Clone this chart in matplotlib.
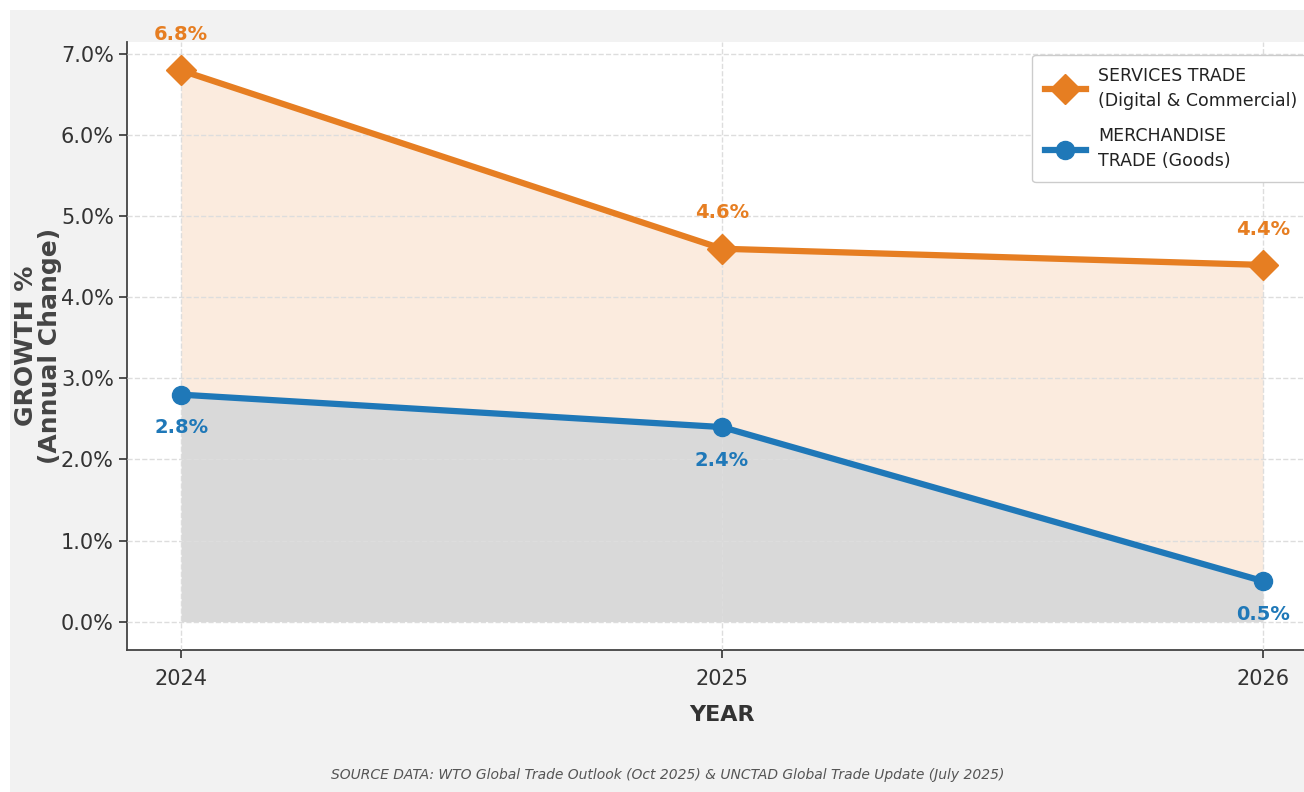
import matplotlib
matplotlib.use("Agg")
import matplotlib.pyplot as plt
from matplotlib.patches import Rectangle
from matplotlib.ticker import FuncFormatter

# Data
years = [2024, 2025, 2026]
services = [6.8, 4.6, 4.4]
merchandise = [2.8, 2.4, 0.5]
series_labels = ["SERVICES TRADE\n(Digital & Commercial)", "MERCHANDISE\nTRADE (Goods)"]
source_text = "SOURCE DATA: WTO Global Trade Outlook (Oct 2025) & UNCTAD Global Trade Update (July 2025)"

ORANGE = "#e67e22"
BLUE = "#1f78b8"

plt.rcParams["font.family"] = ["DejaVu Sans"]

fig = plt.figure(figsize=(13.04, 7.92), dpi=100, facecolor="white")
# gray panel (screenshot leaves a thin white border top/left)
fig.patches.append(Rectangle((10 / 1304, 0), 1, 1 - 10 / 792, transform=fig.transFigure,
                             facecolor="#f2f2f2", edgecolor="none", zorder=-10))

ax = fig.add_axes([127 / 1304, 142 / 792, 1190 / 1304, 608 / 792])
ax.set_facecolor("white")

# fills
ax.fill_between(years, merchandise, services, color=ORANGE, alpha=0.15, linewidth=0, zorder=1)
ax.fill_between(years, 0, merchandise, color="#a0a0a0", alpha=0.4, linewidth=0, zorder=1)

# lines
ax.plot(years, services, color=ORANGE, linewidth=4.5, marker="D", markersize=15,
        label=series_labels[0], zorder=4)
ax.plot(years, merchandise, color=BLUE, linewidth=4.5, marker="o", markersize=13,
        label=series_labels[1], zorder=4)

# value labels
for x, y in zip(years, services):
    ax.annotate(f"{y:.1f}%", (x, y), xytext=(0, 19), textcoords="offset points",
                ha="center", va="bottom", color=ORANGE, fontsize=14, fontweight="bold")
for x, y in zip(years, merchandise):
    ax.annotate(f"{y:.1f}%", (x, y), xytext=(0, -17), textcoords="offset points",
                ha="center", va="top", color=BLUE, fontsize=14, fontweight="bold")

ax.set_xlim(2023.9, 2026.1)
ax.set_ylim(-0.35, 7.15)
ax.set_xticks(years)
ax.set_xticklabels([str(y) for y in years])
ax.set_yticks([0, 1, 2, 3, 4, 5, 6, 7])
ax.yaxis.set_major_formatter(FuncFormatter(lambda v, p: f"{v:.1f}%"))
ax.tick_params(axis="both", labelsize=15, colors="#333333", length=6, width=1.2)
ax.tick_params(axis="x", pad=8)

ax.grid(True, linestyle="--", color="#dddddd", linewidth=1)
ax.set_axisbelow(False)
for s in ["top", "right"]:
    ax.spines[s].set_visible(False)
for s in ["left", "bottom"]:
    ax.spines[s].set_color("#444444")
    ax.spines[s].set_linewidth(1.3)

ax.set_xlabel("YEAR", fontsize=16, fontweight="bold", color="#333333", labelpad=11)
ax.set_ylabel("GROWTH %\n(Annual Change)", fontsize=18, fontweight="bold", color="#444444",
              linespacing=1.0)
ax.yaxis.set_label_coords(-65 / 1190, 0.5)

leg = ax.legend(loc="upper right", bbox_to_anchor=(0.994, 0.979), borderaxespad=0,
                fontsize=12.5, frameon=True, facecolor="white", edgecolor="#cccccc",
                framealpha=1, handlelength=2.4, labelspacing=1.0, borderpad=0.7,
                handletextpad=0.7)
for t in leg.get_texts():
    t.set_color("#222222")
    t.set_linespacing(1.5)

fig.text(668 / 1304, 1 - 775 / 792, source_text, ha="center", va="center",
         fontsize=10, style="italic", color="#555555")

fig.savefig("out.png", dpi=100, facecolor=fig.get_facecolor())
